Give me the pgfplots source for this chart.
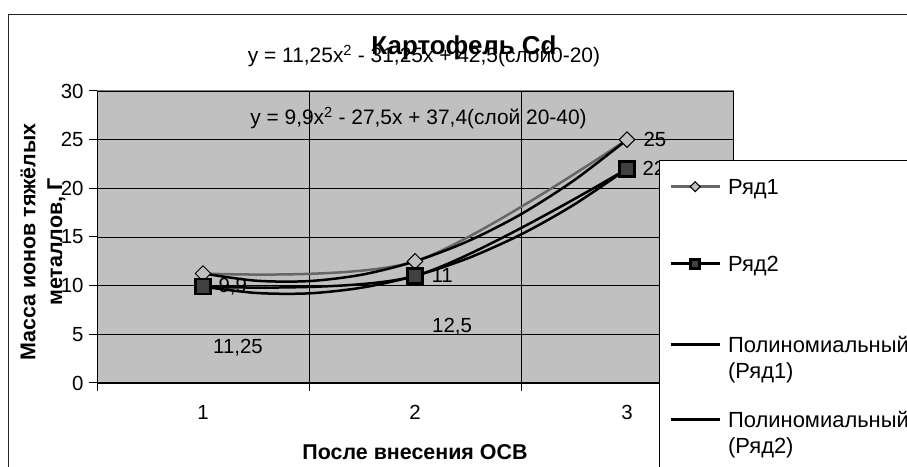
\documentclass[border=0pt]{standalone}
\usepackage{pgfplots}
\pgfplotsset{compat=1.18}
\usepackage{fontspec}
\setmainfont{Liberation Sans}

\definecolor{plotbg}{HTML}{C0C0C0}
\definecolor{rowone}{HTML}{666666}
\definecolor{sqfill}{HTML}{404040}
\definecolor{frameg}{HTML}{808080}

\newcommand{\lbl}{\fontsize{20.5}{24}\selectfont}

\begin{document}
\begin{tikzpicture}[x=1bp,y=1bp]
\path[use as bounding box] (0,0) rectangle (907,467);
\clip (0,0) rectangle (907,467);
% chart frame (runs off the right and bottom edges)
\draw[line width=1bp, black!85] (8.5,-20) -- (8.5,452.5) -- (940,452.5);

\begin{axis}[
  at={(97bp,84bp)}, anchor=south west,
  scale only axis, width=636bp, height=292bp,
  xmin=0.5, xmax=3.5, ymin=0, ymax=30,
  xtick={0.5,1.5,2.5,3.5}, xticklabels={,,,},
  extra x ticks={1,2,3}, extra x tick labels={1,2,3},
  extra x tick style={major tick length=0pt, grid=none},
  ytick={0,5,...,30},
  grid=major,
  major grid style={black, line width=0.8bp},
  axis x line*=bottom, axis y line*=left,
  axis line style={black, line width=1bp, -},
  axis background/.style={fill=plotbg, draw=frameg, line width=1bp},
  tick align=outside, major tick length=8bp,
  tick style={black, line width=1bp},
  /pgf/number format/assume math mode=true,
  /pgf/number format/use comma,
  tick label style={font=\lbl},
  xticklabel style={yshift=-19bp},
  yticklabel style={xshift=-2bp},
  clip=false,
  legend image code/.code={\draw[line width=3bp, mark repeat=2, mark phase=2] plot coordinates {(0bp,7.5bp) (24.5bp,7.5bp) (49bp,7.5bp)};},
  legend style={at={(0.8836,0.7637)}, anchor=north west,
    draw=black, fill=white,
    font=\fontsize{22}{25}\selectfont,
    inner xsep=10bp, inner ysep=17bp, row sep=0pt,
    nodes={inner sep=0pt, text depth=},
    cells={anchor=base west},
    /tikz/every odd column/.append style={column sep=7bp}},
]
% data labels (drawn under the lines)
\node[anchor=west, font=\lbl] at (axis cs:1,9.9) [xshift=12bp] {9,9};

% series lines
\addplot[forget plot, rowone, line width=2.5bp, smooth,
  mark=square*, mark options={rotate=45, mark size=5.5bp, fill=plotbg, draw=black, line width=1bp}]
  coordinates {(1,11.25) (2,12.5) (3,25)};
\addplot[forget plot, black, line width=2.5bp, smooth,
  mark=square*, mark options={mark size=7.5bp, fill=sqfill, draw=none}]
  coordinates {(1,9.9) (2,11) (3,22)};

% polynomial trend lines
\addplot[forget plot, black, line width=2.5bp, smooth]
  coordinates {(1,11.25) (1.25,10.51) (1.5,10.47) (1.75,11.13) (2,12.5)
               (2.25,14.57) (2.5,17.34) (2.75,20.82) (3,25)};
\addplot[forget plot, black, line width=2.5bp, smooth]
  coordinates {(1,9.9) (1.25,9.25) (1.5,9.21) (1.75,9.8) (2,11)
               (2.25,12.82) (2.5,15.26) (2.75,18.32) (3,22)};

\node[anchor=west, font=\lbl] at (axis cs:2,11) [xshift=13bp] {11};
\node[anchor=west, font=\lbl] at (axis cs:3,22) [xshift=12bp] {22};
\node[anchor=west, font=\lbl] at (axis cs:3,25) [xshift=13bp] {25};
\node[font=\lbl] at (axis cs:1.165,3.6) {11,25};
\node[font=\lbl] at (axis cs:2.175,5.75) {12,5};

% legend
\addlegendimage{rowone, line width=3bp, mark=square*, mark options={rotate=45, mark size=3.5bp, fill=plotbg, draw=black, line width=1bp}}
\addlegendentry{Ряд1\rule[-60bp]{0pt}{77bp}}
\addlegendimage{black, line width=3bp, mark=square*, mark options={mark size=4.5bp, fill=sqfill, draw=none}}
\addlegendentry{Ряд2\rule[-64bp]{0pt}{81bp}}
\addlegendimage{black, line width=3bp}
\addlegendentry{Полиномиальный\rule[-9bp]{0pt}{26bp}}
\addlegendimage{empty legend}
\addlegendentry{(Ряд1)\rule[-32bp]{0pt}{49bp}}
\addlegendimage{black, line width=3bp}
\addlegendentry{Полиномиальный\rule[-9bp]{0pt}{26bp}}
\addlegendimage{empty legend}
\addlegendentry{(Ряд2)\rule[-30bp]{0pt}{47bp}}
\end{axis}

% titles and trend equations
\node[anchor=base, font=\bfseries\fontsize{26}{30}\selectfont] at (464,412) {Картофель Cd};
\node[anchor=base, font=\fontsize{21}{25}\selectfont] at (424,404) {y = 11,25x\textsuperscript{2} - 31,25x + 42,5(слой0-20)};
\node[anchor=base, font=\fontsize{21}{25}\selectfont] at (418.5,342) {y = 9,9x\textsuperscript{2} - 27,5x + 37,4(слой 20-40)};

% axis titles
\node[anchor=center, font=\bfseries\fontsize{21.5}{25}\selectfont] at (415,15) {После внесения ОСВ};
\node[anchor=center, rotate=90, align=center, font=\bfseries\fontsize{21.5}{27}\selectfont] at (43,225) {Масса ионов тяжёлых\\металлов, Г};
\end{tikzpicture}
\end{document}
